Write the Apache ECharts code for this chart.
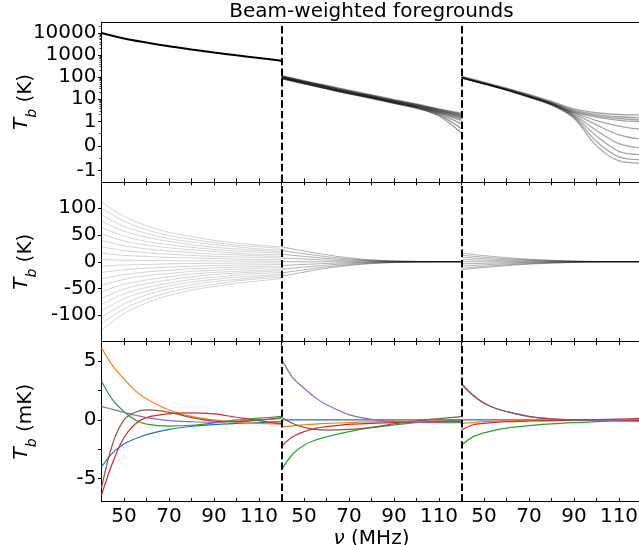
<!DOCTYPE html>
<html><head><meta charset="utf-8">
<script src="https://cdn.jsdelivr.net/npm/echarts@6/dist/echarts.min.js"></script>
<style>html,body{margin:0;padding:0;background:#fff}#c{width:639px;height:545px}</style>
</head><body><div id="c"></div>
<script>
// ---------- data ----------
const freqs = [40, 50, 60, 70, 80, 90, 100, 110, 120];            // MHz, coarse grid
const freqsFine = [40, 45, 50, 55, 60, 70, 80, 90, 100, 110, 120]; // MHz, residual grid
const colStart = 40, colSpan = 80;                                  // each panel column: 40-120 MHz
const xLabelTicks = [50, 70, 90, 110];
const topTickLabels = [10000, 1000, 100, 10, 1, 0, -1];
const topMinorTicks = [20000, 9000, 8000, 7000, 6000, 5000, 4000, 3000, 2000, 900, 800, 700, 600, 500, 400, 300, 200,
  90, 80, 70, 60, 50, 40, 30, 20, 9, 8, 7, 6, 5, 4, 3, 2, 0.5, -0.5];
const midTickLabels = [-100, -50, 0, 50, 100];
const botTickLabels = [-5, 0, 5];
const botTicks = [-5, -2.5, 0, 2.5, 5];

// Top row (K, symlog): column 1 single curve, columns 2 & 3 bundles
const topCol1 = [10000, 5700, 3700, 2500, 1800, 1320, 980, 740, 560];
const topCol2 = [
  [117, 70, 42, 25.5, 15.8, 9.7, 6.1, 3.7, 2.35],
  [112, 66, 40, 24, 14.8, 9.1, 5.7, 3.4, 2.1],
  [108, 63, 38, 22.5, 14, 8.6, 5.4, 3.2, 1.9],
  [104, 61, 36, 21.5, 13.3, 8.2, 5.1, 3.0, 1.7],
  [100, 59, 35, 21, 12.8, 7.9, 4.9, 2.8, 1.5],
  [97, 57, 33.5, 20, 12.4, 7.6, 4.7, 2.6, 1.3],
  [94, 55, 32, 19.3, 12, 7.3, 4.5, 2.4, 1.1],
  [91, 53, 31, 18.6, 11.6, 7.0, 4.3, 2.2, 0.9],
  [88, 52, 30, 18.1, 11.2, 6.8, 4.1, 1.95, 0.7],
  [85, 50, 29.4, 17.7, 10.9, 6.6, 3.9, 1.75, 0.52]
];
const topCol3 = [
  [112, 60, 32.3, 16.6, 8.1, 3.7, 2.45, 2.04, 1.95],
  [104.5, 56, 30.1, 15.5, 7.4, 3.2, 2.04, 1.62, 1.48],
  [99.8, 53.6, 28.8, 14.4, 6.9, 2.9, 1.77, 1.35, 1.17],
  [97.5, 52.4, 28.1, 14.1, 6.6, 2.6, 1.55, 1.12, 0.99],
  [97.5, 52.4, 27.5, 13.8, 6.45, 2.45, 1.09, 0.81, 0.675],
  [95.3, 51.2, 27.5, 13.5, 6.15, 2.2, 0.855, 0.45, 0.27],
  [95.3, 51.2, 26.9, 13.2, 6.0, 1.95, 0.63, 0.09, -0.09],
  [93.1, 50, 26.9, 12.9, 5.9, 1.73, 0.405, -0.225, -0.36],
  [93.1, 50, 26.2, 12.6, 5.6, 1.55, 0.18, -0.45, -0.56],
  [91, 48.9, 26.2, 12.3, 5.5, 1.38, 0, -0.61, -0.70]
];

// Middle row (K, linear): fans of fitted-out components
const midCol1 = [
  [112, 85, 67, 55, 47, 40, 35, 31, 28],
  [100, 76, 60, 49, 42, 36, 31, 28, 25],
  [88, 66, 53, 43, 37, 32, 28, 24, 22],
  [76, 57, 46, 38, 32, 27, 24, 21, 19],
  [64, 48, 38, 32, 27, 23, 20, 18, 16],
  [52, 39, 31, 26, 22, 19, 16, 14, 13],
  [40, 30, 24, 20, 17, 14, 13, 11, 10],
  [28, 21, 17, 14, 12, 10, 9, 8, 7],
  [16, 12, 10, 8, 7, 6, 5, 4, 4],
  [4, 3, 2.4, 2, 1.7, 1.4, 1.3, 1.1, 1],
  [-8, -6, -5, -4, -3.3, -2.9, -2.5, -2.2, -2],
  [-20, -15, -12, -10, -8.3, -7.2, -6.3, -5.6, -5],
  [-32, -24, -19, -16, -13, -11.5, -10, -9, -8],
  [-44, -33, -26, -22, -18, -16, -14, -12, -11],
  [-56, -42, -34, -28, -23, -20, -18, -16, -14],
  [-68, -51, -41, -34, -28, -24, -21, -19, -17],
  [-80, -60, -48, -40, -33, -29, -25, -22, -20],
  [-92, -69, -55, -45, -38, -33, -29, -26, -23],
  [-104, -79, -62, -51, -43, -37, -33, -29, -26],
  [-116, -88, -70, -57, -48, -42, -36, -32, -29],
  [-128, -97, -77, -63, -53, -46, -40, -36, -31]
];
const midCol2 = [
  [28, 20, 13, 7.3, 3.6, 1.7, 0.8, 0.3, 0],
  [21, 15, 9.5, 5.5, 2.7, 1.3, 0.6, 0.2, 0],
  [14, 10, 6.3, 3.6, 1.8, 0.8, 0.4, 0.1, 0],
  [7, 5, 3.2, 1.8, 0.9, 0.4, 0.2, 0.1, 0],
  [0, 0, 0, 0, 0, 0, 0, 0, 0],
  [-7, -5, -3.2, -1.8, -0.9, -0.4, -0.2, -0.1, 0],
  [-14, -10, -6.3, -3.6, -1.8, -0.8, -0.4, -0.1, 0],
  [-21, -15, -9.5, -5.5, -2.7, -1.3, -0.6, -0.2, 0],
  [-27, -19.4, -12.2, -7, -3.5, -1.6, -0.8, -0.3, 0]
];
const midCol3 = [
  [16, 11.5, 7.7, 4.8, 2.9, 1.4, 0.6, 0.2, 0],
  [12, 8.6, 5.8, 3.6, 2.2, 1.1, 0.5, 0.2, 0],
  [8, 5.8, 3.8, 2.4, 1.4, 0.7, 0.3, 0.1, 0],
  [4, 2.9, 1.9, 1.2, 0.7, 0.4, 0.2, 0.1, 0],
  [0, 0, 0, 0, 0, 0, 0, 0, 0],
  [-4, -2.9, -1.9, -1.2, -0.7, -0.4, -0.2, -0.1, 0],
  [-8, -5.8, -3.8, -2.4, -1.4, -0.7, -0.3, -0.1, 0],
  [-12, -8.6, -5.8, -3.6, -2.2, -1.1, -0.5, -0.2, 0],
  [-15, -10.8, -7.2, -4.5, -2.7, -1.4, -0.6, -0.2, 0]
];

// Bottom row (mK): six residual modes per column, order blue, orange, green, red, purple, brown
const botCol1 = [
  [-4.0, -2.8, -2.05, -1.6, -1.25, -0.8, -0.55, -0.4, -0.3, -0.22, -0.15],
  [6.15, 4.6, 3.5, 2.5, 1.8, 0.85, 0.3, 0.0, -0.2, -0.3, -0.35],
  [3.3, 1.7, 0.7, 0.0, -0.35, -0.52, -0.45, -0.25, 0.0, 0.15, 0.3],
  [-6.4, -3.6, -1.5, -0.35, 0.2, 0.52, 0.6, 0.52, 0.23, -0.06, -0.34],
  [1.15, 0.9, 0.65, 0.4, 0.2, -0.05, -0.15, -0.2, -0.1, 0.0, 0.1],
  [-5.8, -2.0, 0.0, 0.65, 0.85, 0.65, 0.2, -0.1, -0.15, 0.0, 0.2]
];
const botCol2 = [
  [0, 0, 0, 0, 0, 0, 0, 0, 0, 0, 0],
  [-0.6, -0.5, -0.42, -0.35, -0.3, -0.22, -0.16, -0.12, -0.1, -0.08, -0.07],
  [-4.25, -2.9, -2.15, -1.72, -1.44, -1.0, -0.66, -0.43, -0.23, -0.11, 0.0],
  [-2.24, -1.44, -1.0, -0.72, -0.57, -0.37, -0.29, -0.23, -0.2, -0.17, -0.14],
  [5.2, 3.6, 2.7, 1.9, 1.3, 0.45, 0.05, -0.12, -0.2, -0.22, -0.22],
  [0.23, -0.3, -0.63, -0.8, -0.86, -0.8, -0.63, -0.34, -0.09, 0.11, 0.29]
];
const botCol3 = [
  [0, 0, 0, 0, 0, 0, 0, 0, 0, 0, 0],
  [-0.3, -0.22, -0.15, -0.1, -0.07, -0.04, -0.02, 0, 0, 0, 0],
  [-2.15, -1.44, -1.1, -0.86, -0.69, -0.49, -0.34, -0.23, -0.14, -0.09, -0.03],
  [-0.86, -0.43, -0.29, -0.2, -0.14, -0.09, -0.06, -0.04, -0.03, -0.03, -0.03],
  [3.16, 2.15, 1.44, 1.0, 0.72, 0.29, 0.09, 0.0, -0.03, -0.08, -0.12],
  [3.0, 2.1, 1.42, 1.0, 0.72, 0.3, 0.1, 0.02, 0.03, 0.08, 0.14]
];

// ---------- styling / helpers ----------
const palette = ['#1f77b4', '#ff7f0e', '#2ca02c', '#d62728', '#9467bd', '#8c564b'];
const FONT = 'DejaVu Sans';
const LIN = 1 / (1 - 1 / 10); // symlog linscale adjustment (linthresh 1, linscale 1)
function symlog(v) { const a = Math.abs(v); return Math.sign(v) * (a <= 1 ? a * LIN : LIN + Math.log10(a)); }
function invSymlog(t) { const a = Math.abs(t); return Math.sign(t) * (a <= LIN ? a / LIN : Math.pow(10, a - LIN)); }
function xOf(col, f) { return col * colSpan + (f - colStart); }

const rowTop = [22, 181.8, 341.7], rowH = 159.9;
const gridLeft = 101.5, gridW = 3 * 180;

const grids = rowTop.map(t => ({ left: gridLeft, top: t, width: gridW, height: rowH, containLabel: false, outerBoundsMode: 'none' }));

const xAxes = [];
rowTop.forEach((t, r) => {
  xAxes.push({
    type: 'value', gridIndex: r, position: 'bottom', min: 0, max: 3 * colSpan, interval: 10,
    axisLine: { show: true, onZero: false, lineStyle: { color: '#000', width: 1 } },
    axisTick: { show: true, inside: true, length: 3.5, lineStyle: { color: '#000', width: 1 } },
    axisLabel: {
      show: r === 2, color: '#000', fontSize: 20, fontFamily: FONT, margin: 5,
      formatter: v => { const f = colStart + (((Math.round(v) % colSpan) + colSpan) % colSpan); return xLabelTicks.includes(f) ? String(f) : ''; }
    },
    splitLine: { show: false },
    name: r === 2 ? '{n|ν} (MHz)' : '', nameLocation: 'middle', nameGap: 27, nameMoveOverlap: false,
    nameTextStyle: { color: '#000', fontSize: 20, fontFamily: FONT, rich: { n: { fontStyle: 'italic', fontSize: 20, fontFamily: FONT, color: '#000' } } }
  });
  xAxes.push({
    type: 'value', gridIndex: r, position: 'top', min: 0, max: 3 * colSpan, interval: 10,
    axisLine: { show: true, onZero: false, lineStyle: { color: '#000', width: 1 } },
    axisTick: { show: r > 0, inside: true, length: 3.5, lineStyle: { color: '#000', width: 1 } },
    axisLabel: { show: false }, splitLine: { show: false }
  });
});

function yName(unit) {
  return {
    name: '{t|T}{s|b} (' + unit + ')', nameLocation: 'middle', nameGap: 62, nameRotate: 90, nameMoveOverlap: false,
    nameTextStyle: {
      color: '#000', fontSize: 20, fontFamily: FONT,
      rich: {
        t: { fontStyle: 'italic', fontSize: 20, fontFamily: FONT, color: '#000', lineHeight: 24, verticalAlign: 'top' },
        s: { fontStyle: 'italic', fontSize: 14, fontFamily: FONT, color: '#000', lineHeight: 28, verticalAlign: 'bottom' }
      }
    }
  };
}
const yLabelStyle = { color: '#000', fontSize: 20, fontFamily: FONT, margin: 5 };
const yLine = { show: true, onZero: false, lineStyle: { color: '#000', width: 1 } };

const topMajorT = topTickLabels.map(symlog);
const topMinorT = topMinorTicks.map(symlog);
const yAxes = [
  Object.assign({
    type: 'value', gridIndex: 0, min: -1.63, max: 5.61, position: 'left',
    axisLine: yLine,
    axisTick: { show: true, length: 3.5, customValues: topMajorT, lineStyle: { color: '#000' } },
    axisLabel: Object.assign({ customValues: topMajorT, formatter: v => String(Math.round(invSymlog(v))) }, yLabelStyle),
    splitLine: { show: false }
  }, yName('K')),
  {
    type: 'value', gridIndex: 0, min: -1.63, max: 5.61, position: 'left',
    axisLine: { show: false, onZero: false },
    axisTick: { show: true, length: 2, customValues: topMinorT, lineStyle: { color: '#000', width: 0.8 } },
    axisLabel: { show: false }, splitLine: { show: false }
  },
  Object.assign({
    type: 'value', gridIndex: 1, min: -149.4, max: 149.4, position: 'left',
    axisLine: yLine,
    axisTick: { show: true, length: 3.5, customValues: midTickLabels, lineStyle: { color: '#000' } },
    axisLabel: Object.assign({ customValues: midTickLabels }, yLabelStyle),
    splitLine: { show: false }
  }, yName('K')),
  Object.assign({
    type: 'value', gridIndex: 2, min: -6.95, max: 6.66, position: 'left',
    axisLine: yLine,
    axisTick: { show: true, length: 3.5, customValues: botTicks, lineStyle: { color: '#000' } },
    axisLabel: Object.assign({ customValues: botTickLabels }, yLabelStyle),
    splitLine: { show: false }
  }, yName('mK'))
];

const series = [];
function addLine(row, col, xs, vals, color, width, opacity, transform, z) {
  series.push({
    type: 'line', xAxisIndex: 2 * row, yAxisIndex: [0, 2, 3][row],
    data: xs.map((f, i) => [xOf(col, f), transform ? transform(vals[i]) : vals[i]]),
    showSymbol: false, symbol: 'none', smooth: 0.35, silent: true, animation: false,
    lineStyle: { color: color, width: width, opacity: opacity }, z: z || 2
  });
}
// top row
addLine(0, 0, freqs, topCol1, '#000', 2, 1, symlog);
topCol2.forEach(v => addLine(0, 1, freqs, v, '#000', 1.4, 0.4, symlog));
topCol3.forEach(v => addLine(0, 2, freqs, v, '#000', 1.3, 0.35, symlog));
// middle row
midCol1.forEach(v => addLine(1, 0, freqs, v, '#000', 1, 0.17));
midCol2.forEach(v => addLine(1, 1, freqs, v, '#000', 1, 0.3));
midCol3.forEach(v => addLine(1, 2, freqs, v, '#000', 1, 0.3));
// bottom row
[botCol1, botCol2, botCol3].forEach((col, c) => col.forEach((v, k) => addLine(2, c, freqsFine, v, palette[k], 1.2, 1)));

// dashed column separators (one marker series per row)
[0, 1, 2].forEach(r => {
  series.push({
    type: 'line', xAxisIndex: 2 * r, yAxisIndex: [0, 2, 3][r], data: [], silent: true, animation: false, z: 5,
    markLine: {
      symbol: 'none', silent: true, animation: false, label: { show: false },
      lineStyle: { color: '#000', width: 2, type: [7.4, 3.2] },
      data: [{ xAxis: colSpan }, { xAxis: 2 * colSpan }]
    }
  });
});

const chart = echarts.init(document.getElementById('c'), null, { renderer: 'canvas' });
chart.setOption({
  animation: false,
  backgroundColor: '#fff',
  title: { text: 'Beam-weighted foregrounds', left: gridLeft + gridW / 2, top: 2, textAlign: 'center', padding: 0,
    textStyle: { color: '#000', fontSize: 20, fontWeight: 'normal', fontFamily: FONT } },
  grid: grids, xAxis: xAxes, yAxis: yAxes, series: series
});
</script></body></html>
